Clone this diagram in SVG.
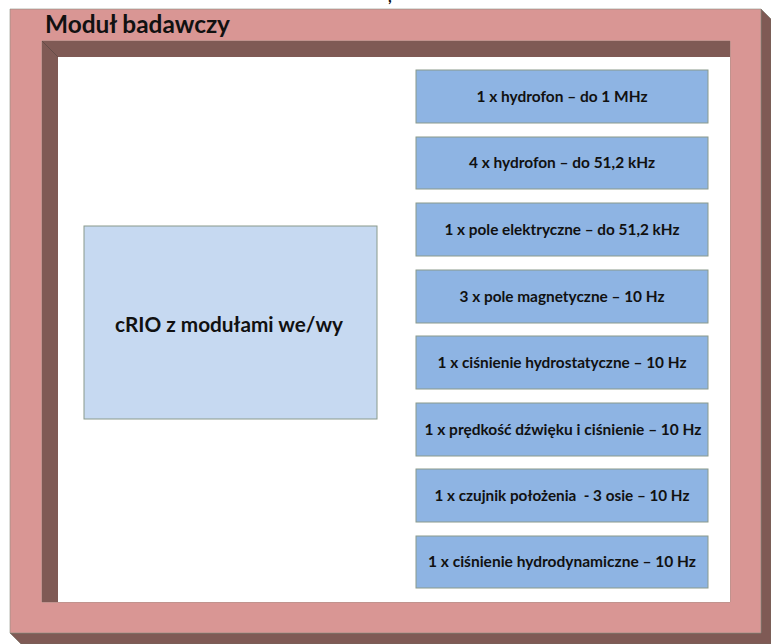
<svg xmlns="http://www.w3.org/2000/svg" width="771" height="644" viewBox="0 0 771 644">
<style>
.t{font-family:Lato,"Open Sans","Liberation Sans",sans-serif;font-weight:bold;fill:#111;}
.box{fill:#8eb4e3;stroke:#8a9a8c;stroke-width:1;}
.bt{font-size:15px;text-anchor:middle;white-space:pre;}
.dark{fill:#7f5a55;}
</style>
<rect width="771" height="644" fill="#ffffff"/>
<text x="388" y="1.5" class="t" font-size="16">,</text>
<g id="frame">
<polygon class="dark" points="761,9 771,19 771,644 21,644 10,633 761,633" stroke="#6e6a5e" stroke-width="0.6"/>
<path d="M10,9 H761 V633 H10 Z M42,41 V602 H730 V41 Z" fill="#d99694" fill-rule="evenodd" stroke="#8a8f80" stroke-width="0.6"/>
<polygon class="dark" points="42,41 730,41 730,57 58,57 58,602 42,602"/>
<line x1="42" y1="41" x2="58" y2="57" stroke="#5e4a45" stroke-width="0.8"/>
<rect x="58" y="57" width="672" height="545" fill="#ffffff"/>
<text x="45" y="33" class="t" font-size="24" textLength="185" lengthAdjust="spacingAndGlyphs">Moduł badawczy</text>
</g>
<g id="crio">
<rect x="84" y="226" width="293" height="193" fill="#c6d9f1" stroke="#8a9a8c" stroke-width="1"/>
<text x="229" y="332" class="t" font-size="21" text-anchor="middle" textLength="228" lengthAdjust="spacingAndGlyphs">cRIO z modułami we/wy</text>
</g>
<g id="s1"><rect class="box" x="416" y="70" width="292" height="53"/><text class="t bt" x="562" y="101.5" textLength="171" lengthAdjust="spacingAndGlyphs">1 x hydrofon – do 1 MHz</text></g>
<g id="s2"><rect class="box" x="416" y="137" width="292" height="52"/><text class="t bt" x="562" y="168" textLength="186" lengthAdjust="spacingAndGlyphs">4 x hydrofon – do 51,2 kHz</text></g>
<g id="s3"><rect class="box" x="416" y="203" width="292" height="53"/><text class="t bt" x="562" y="234.5" textLength="235" lengthAdjust="spacingAndGlyphs">1 x pole elektryczne – do 51,2 kHz</text></g>
<g id="s4"><rect class="box" x="416" y="270" width="292" height="53"/><text class="t bt" x="562" y="301.5" textLength="205" lengthAdjust="spacingAndGlyphs">3 x pole magnetyczne – 10 Hz</text></g>
<g id="s5"><rect class="box" x="416" y="336" width="292" height="53"/><text class="t bt" x="562" y="367.5" textLength="249" lengthAdjust="spacingAndGlyphs">1 x ciśnienie hydrostatyczne – 10 Hz</text></g>
<g id="s6"><rect class="box" x="416" y="403" width="292" height="53"/><text class="t bt" x="563" y="434.5" textLength="277" lengthAdjust="spacingAndGlyphs">1 x prędkość dźwięku i ciśnienie – 10 Hz</text></g>
<g id="s7"><rect class="box" x="416" y="469" width="292" height="53"/><text class="t bt" x="562" y="500.5" textLength="255" lengthAdjust="spacingAndGlyphs">1 x czujnik położenia  - 3 osie – 10 Hz</text></g>
<g id="s8"><rect class="box" x="416" y="536" width="292" height="52"/><text class="t bt" x="562" y="567" textLength="268" lengthAdjust="spacingAndGlyphs">1 x ciśnienie hydrodynamiczne – 10 Hz</text></g>
<g id="connectors"></g>
</svg>
